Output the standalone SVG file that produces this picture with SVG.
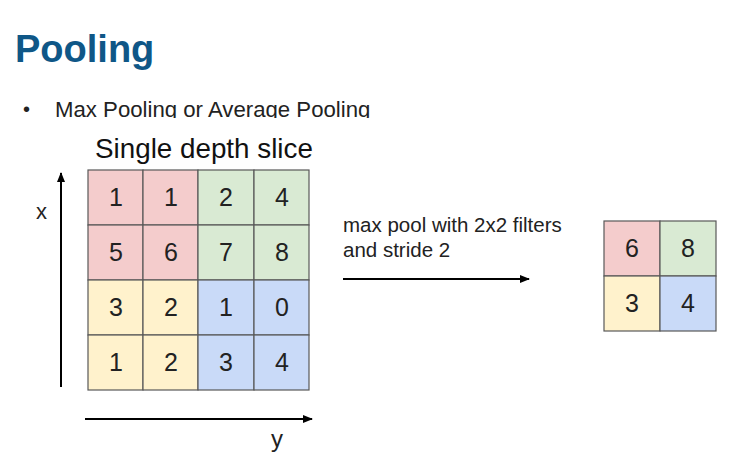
<svg xmlns="http://www.w3.org/2000/svg" width="750" height="452" viewBox="0 0 750 452">
<defs>
<marker id="ah" viewBox="0 0 10 10" refX="9" refY="5" markerWidth="5" markerHeight="5" orient="auto" markerUnits="strokeWidth"><path d="M0,1 L10,5 L0,9 z" fill="#000"/></marker>
<clipPath id="clipB"><rect x="0" y="90" width="750" height="28"/></clipPath>
</defs>
<style>
text{font-family:"Liberation Sans",Arial,sans-serif;fill:#222}
.c{stroke:#595959;stroke-width:1.2}
.r{fill:#f4cccc}.g{fill:#d9ead3}.y{fill:#fff2cc}.b{fill:#c9daf8}
.n{font-size:25px;text-anchor:middle}
.ax{stroke:#000;stroke-width:2;fill:none}
</style>
<rect width="750" height="452" fill="#fff"/>
<text x="15" y="62" style="font-size:38px;font-weight:bold;fill:#0f5787">Pooling</text>
<g clip-path="url(#clipB)">
<text x="23" y="116" style="font-size:20px">•</text>
<text x="55" y="117" style="font-size:22.2px">Max Pooling or Average Pooling</text>
</g>
<text x="95" y="158" style="font-size:27.8px;fill:#111">Single depth slice</text>
<g id="grid">
<rect class="c r" x="88" y="170" width="55" height="55"/>
<rect class="c r" x="143" y="170" width="55" height="55"/>
<rect class="c g" x="198" y="170" width="56" height="55"/>
<rect class="c g" x="254" y="170" width="55" height="55"/>
<rect class="c r" x="88" y="225" width="55" height="55"/>
<rect class="c r" x="143" y="225" width="55" height="55"/>
<rect class="c g" x="198" y="225" width="56" height="55"/>
<rect class="c g" x="254" y="225" width="55" height="55"/>
<rect class="c y" x="88" y="280" width="55" height="55"/>
<rect class="c y" x="143" y="280" width="55" height="55"/>
<rect class="c b" x="198" y="280" width="56" height="55"/>
<rect class="c b" x="254" y="280" width="55" height="55"/>
<rect class="c y" x="88" y="335" width="55" height="55"/>
<rect class="c y" x="143" y="335" width="55" height="55"/>
<rect class="c b" x="198" y="335" width="56" height="55"/>
<rect class="c b" x="254" y="335" width="55" height="55"/>
<text class="n" x="116" y="206">1</text><text class="n" x="171" y="206">1</text><text class="n" x="226" y="206">2</text><text class="n" x="282" y="206">4</text>
<text class="n" x="116" y="261">5</text><text class="n" x="171" y="261">6</text><text class="n" x="226" y="261">7</text><text class="n" x="282" y="261">8</text>
<text class="n" x="116" y="316">3</text><text class="n" x="171" y="316">2</text><text class="n" x="226" y="316">1</text><text class="n" x="282" y="316">0</text>
<text class="n" x="116" y="371">1</text><text class="n" x="171" y="371">2</text><text class="n" x="226" y="371">3</text><text class="n" x="282" y="371">4</text>
</g>
<g id="out">
<rect class="c r" x="604" y="221" width="56" height="55"/>
<rect class="c g" x="660" y="221" width="56" height="55"/>
<rect class="c y" x="604" y="276" width="56" height="55"/>
<rect class="c b" x="660" y="276" width="56" height="55"/>
<text class="n" x="632" y="257">6</text><text class="n" x="688" y="257">8</text>
<text class="n" x="632" y="312">3</text><text class="n" x="688" y="312">4</text>
</g>
<g id="connectors">
<line class="ax" x1="61" y1="387" x2="61" y2="173" marker-end="url(#ah)"/>
<line class="ax" x1="85" y1="419" x2="312" y2="419" marker-end="url(#ah)"/>
<line class="ax" x1="343" y1="279" x2="529" y2="279" marker-end="url(#ah)"/>
</g>
<text x="36" y="219" style="font-size:22px">x</text>
<text x="271" y="447" style="font-size:24px">y</text>
<text x="343" y="232" style="font-size:20.5px">max pool with 2x2 filters</text>
<text x="343" y="257" style="font-size:20.5px">and stride 2</text>
</svg>
